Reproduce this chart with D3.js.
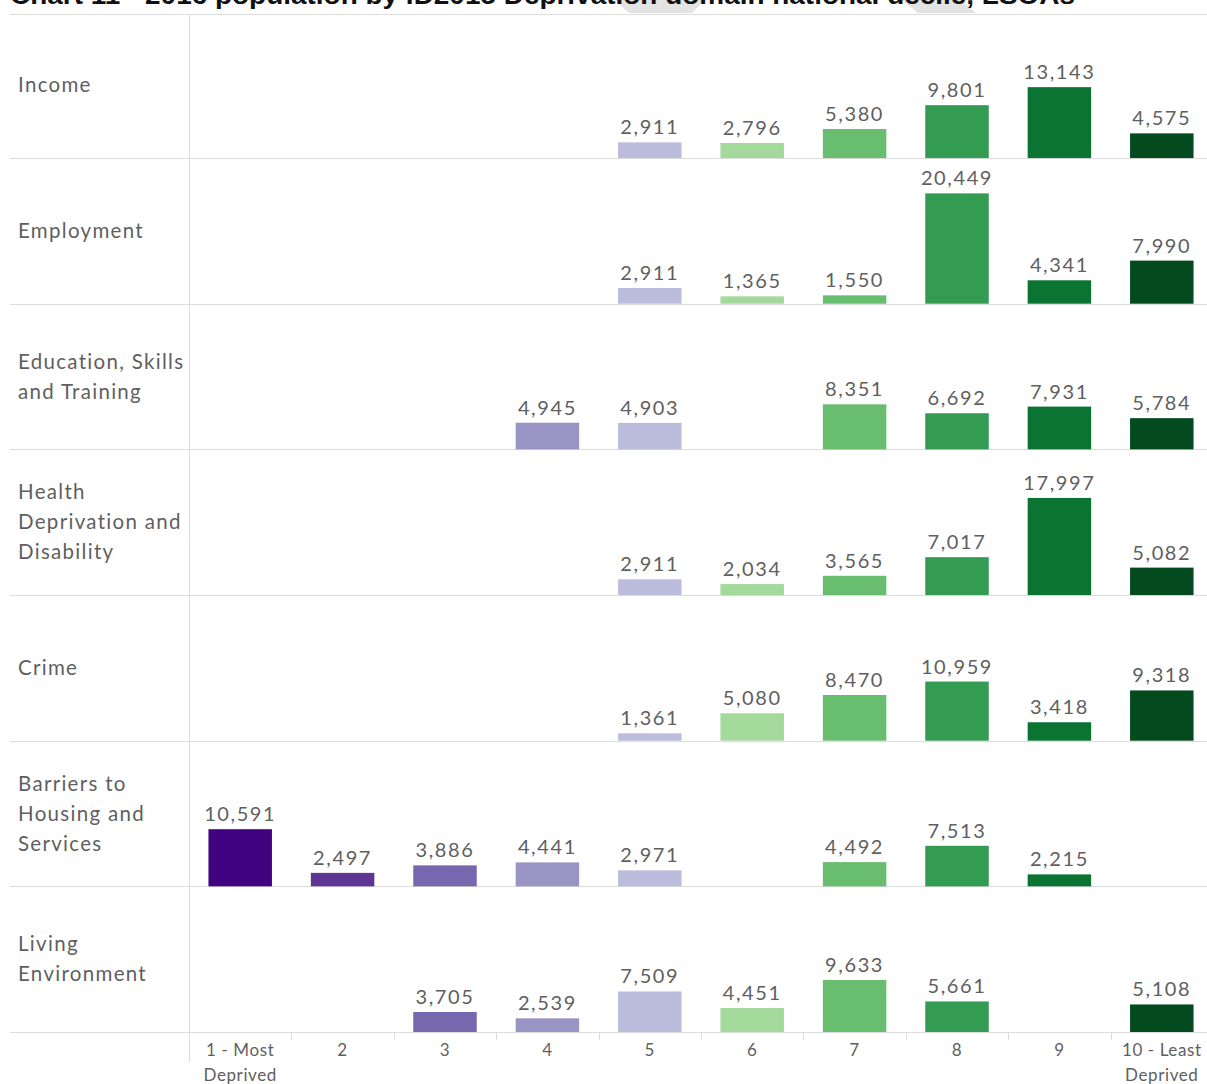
<!DOCTYPE html>
<html><head><meta charset="utf-8">
<script src="https://cdn.jsdelivr.net/npm/d3@7"></script>
<style>
body{margin:0;background:#fff;}
svg{display:block;}
</style></head>
<body>
<svg id="chart" width="1207" height="1084"></svg>
<script>
const title = "Chart 11 - 2016 population by ID2015 Deprivation domain national decile, LSOAs";
const deciles = ["1","2","3","4","5","6","7","8","9","10"];
const decileLabels = [["1 - Most","Deprived"],["2"],["3"],["4"],["5"],["6"],["7"],["8"],["9"],["10 - Least","Deprived"]];
const domains = ["Income","Employment","Education, Skills and Training","Health Deprivation and Disability","Crime","Barriers to Housing and Services","Living Environment"];
const domainLines = [["Income"],["Employment"],["Education, Skills","and Training"],["Health","Deprivation and","Disability"],["Crime"],["Barriers to","Housing and","Services"],["Living","Environment"]];
const incomeValues      = [null,null,null,null,2911,2796,5380,9801,13143,4575];
const employmentValues  = [null,null,null,null,2911,1365,1550,20449,4341,7990];
const educationValues   = [null,null,null,4945,4903,null,8351,6692,7931,5784];
const healthValues      = [null,null,null,null,2911,2034,3565,7017,17997,5082];
const crimeValues       = [null,null,null,null,1361,5080,8470,10959,3418,9318];
const barriersValues    = [10591,2497,3886,4441,2971,null,4492,7513,2215,null];
const livingValues      = [null,null,3705,2539,7509,4451,9633,5661,null,5108];
const seriesValues = [incomeValues,employmentValues,educationValues,healthValues,crimeValues,barriersValues,livingValues];
const decileColors = ["#420380","#5e3495","#7667ae","#9a94c5","#bcbddc","#a3d99b","#68bd6e","#339b52","#0b7433","#044a1f"];

(function(){
const svg = d3.select("#chart");
const leftX = 10, labelW = 189, rightX = 1213, topY = 12.4, bottomY = 1032, headerY = 14;
const rowH = (bottomY - topY) / domains.length;

const x = d3.scaleBand().domain(deciles).range([labelW, rightX]).paddingInner(0.38).paddingOuter(0.19);
const xStep = d3.scaleBand().domain(deciles).range([labelW, rightX]);
const y = d3.scaleLinear().domain([0, 27000]).range([rowH, 0]);
const row = d3.scaleBand().domain(domains).range([topY, bottomY]);
const color = d3.scaleOrdinal().domain(deciles).range(decileColors);
const fmt = d3.format(",");

// faint decorative shapes behind the clipped title
svg.append("path").attr("d","M615,0 L705,0 L692,13 L629,13 Z").attr("fill","#e3e3e3");
svg.append("path").attr("d","M902,0 L960,0 L976,13 L918,13 Z").attr("fill","#e3e3e3");

svg.append("text").attr("x", leftX).attr("y", 4)
  .attr("font-family","Liberation Sans, Arial, sans-serif").attr("font-weight","bold")
  .attr("font-size", 26).attr("textLength", 1065).attr("lengthAdjust","spacingAndGlyphs")
  .attr("fill","#111").text(title);

const grid = "#dcdcdc";
svg.append("g").selectAll("line").data([headerY, ...domains.map(d => row(d) + rowH)])
  .join("line").attr("x1", leftX).attr("x2", 1207).attr("y1", d => Math.round(d)+0.5).attr("y2", d => Math.round(d)+0.5)
  .attr("stroke", grid).attr("stroke-width", 1);
svg.append("line").attr("x1", labelW+0.5).attr("x2", labelW+0.5).attr("y1", headerY).attr("y2", 1062)
  .attr("stroke", grid);

const textCol = "#5f5f5f";
const font = "Lato, 'Open Sans', sans-serif";

domains.forEach((dom, i) => {
  const g = svg.append("g").attr("transform", `translate(0,${row(dom)})`);
  const lines = domainLines[i];
  const mid = rowH / 2;
  g.append("text").attr("font-family", font).attr("font-size", 20.5).attr("letter-spacing", 1.3).attr("fill", textCol)
    .selectAll("tspan").data(lines).join("tspan")
    .attr("x", 18).attr("y", (d, j) => mid + 7 + (j - (lines.length - 1) / 2) * 30).text(d => d);

  const data = deciles.map((d, j) => ({d, v: seriesValues[i][j]})).filter(o => o.v != null);
  g.selectAll("rect").data(data).join("rect")
    .attr("x", o => x(o.d)).attr("width", x.bandwidth())
    .attr("y", o => y(o.v)).attr("height", o => y(0) - y(o.v))
    .attr("fill", o => color(o.d));
  g.selectAll("text.val").data(data).join("text").attr("class","val")
    .attr("x", o => x(o.d) + x.bandwidth()/2).attr("y", o => y(o.v) - 8)
    .attr("text-anchor","middle").attr("font-family", font).attr("font-size", 20)
    .attr("letter-spacing", 1.6).attr("fill", textCol).text(o => fmt(o.v));
});

const axisG = svg.append("g").attr("transform", `translate(0,${bottomY})`);
axisG.selectAll("line").data(deciles.slice(1)).join("line")
  .attr("x1", d => Math.round(xStep(d))+0.5).attr("x2", d => Math.round(xStep(d))+0.5)
  .attr("y1", 0).attr("y2", 8).attr("stroke", grid);
decileLabels.forEach((lab, j) => {
  axisG.append("text").attr("font-family", font).attr("font-size", 17).attr("letter-spacing", 0.6).attr("fill", textCol)
    .attr("text-anchor","middle")
    .selectAll("tspan").data(lab).join("tspan")
    .attr("x", xStep(deciles[j]) + xStep.bandwidth()/2).attr("y", (d,k) => 24 + k*25).text(d => d);
});
})();
</script>
</body></html>
